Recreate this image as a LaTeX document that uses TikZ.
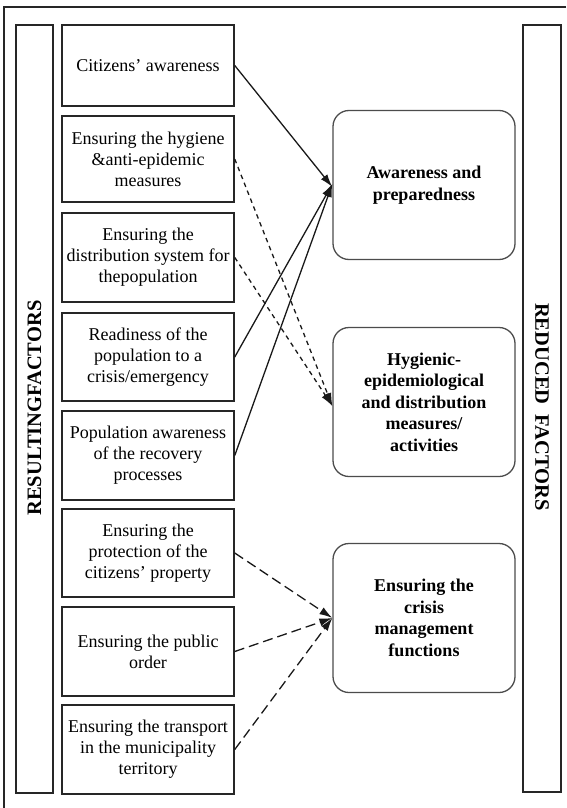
\documentclass[tikz,border=0pt]{standalone}
\usepackage{fontspec}
\setmainfont{Liberation Serif}
\usetikzlibrary{arrows.meta}
\begin{document}
\begin{tikzpicture}[x=1pt,y=-1pt,
  frame/.style={draw=black!85, line width=1.5pt},
  lbox/.style={draw=black!85, line width=1.5pt, rectangle, inner sep=0pt,
    minimum width=172pt, align=center, font=\fontsize{18}{21}\selectfont},
  rbox/.style={draw=black!70, line width=1.3pt, rectangle, rounded corners=16pt,
    inner sep=0pt, minimum width=182pt, minimum height=149pt, align=center,
    font=\bfseries\fontsize{18}{21.5}\selectfont},
  sideL/.style={font=\bfseries\fontsize{20.5}{24}\selectfont, rotate=90},
  sideR/.style={font=\bfseries\fontsize{20.5}{24}\selectfont, rotate=-90},
  solidarr/.style={draw=black!90, line width=1.3pt, -{Latex[length=13pt,width=8pt]}},
  shortdash/.style={draw=black!90, line width=1.3pt, dash pattern=on 4.5pt off 4pt, -{Latex[length=13pt,width=8pt]}},
  longdash/.style={draw=black!90, line width=1.3pt, dash pattern=on 10pt off 5pt, -{Latex[length=13pt,width=8pt]}}
]
\useasboundingbox (0,0) rectangle (566,808);
\fill[white] (0,0) rectangle (566,808);
% outer frame (only top and left edges visible)
\draw[frame] (566,7) -- (4,7) -- (4,808);
% side bars
\draw[frame] (16,25) rectangle (53,793);
\draw[frame] (523,25) rectangle (561,792);
\node[sideL] (lt) at (34.5,408) {RESULTINGFACTORS};
\node[sideR] (rt) at (542,407) {REDUCED~~FACTORS};
% left boxes
\node[lbox, minimum height=81pt] (b1) at (148,65.5) {Citizens' awareness};
\node[lbox, minimum height=86pt] (b2) at (148,159) {Ensuring the hygiene\\\&anti-epidemic\\measures};
\node[lbox, minimum height=89pt] (b3) at (148,257.5) {Ensuring the\\distribution system for\\thepopulation};
\node[lbox, minimum height=88pt] (b4) at (148,357) {Readiness of the\\population to a\\crisis/emergency};
\node[lbox, minimum height=89pt] (b5) at (148,455.5) {Population awareness\\of the recovery\\processes};
\node[lbox, minimum height=88pt] (b6) at (148,553) {Ensuring the\\protection of the\\citizens' property};
\node[lbox, minimum height=89pt] (b7) at (148,651.5) {Ensuring the public\\order};
\node[lbox, minimum height=89pt] (b8) at (148,749.5) {Ensuring the transport\\in the municipality\\territory};
% right boxes
\node[rbox] (r1) at (424,185) {Awareness and\\preparedness};
\node[rbox] (r2) at (424,402) {Hygienic-\\epidemiological\\and distribution\\measures/\\activities};
\node[rbox] (r3) at (424,618) {Ensuring the\\crisis\\management\\functions};
% connectors
\draw[solidarr] (b1.east) -- ([yshift=-2pt]r1.west);
\draw[solidarr] (b4.east) -- ([yshift=1pt]r1.west);
\draw[solidarr] (b5.east) -- ([yshift=1pt]r1.west);
\draw[shortdash] (b2.east) -- ([yshift=-4pt]r2.west);
\draw[shortdash] (b3.east) -- ([yshift=-4pt]r2.west);
\draw[longdash] (b6.east) -- (r3.west);
\draw[longdash] (b7.east) -- (r3.west);
\draw[longdash] (b8.east) -- (r3.west);
\end{tikzpicture}
\end{document}
